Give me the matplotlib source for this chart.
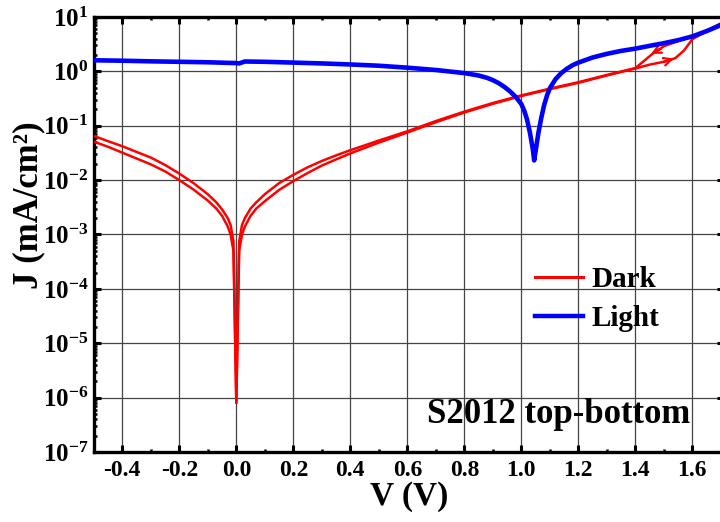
import math
import matplotlib
matplotlib.use("Agg")
import matplotlib.pyplot as plt
from matplotlib.lines import Line2D
from matplotlib.ticker import FixedLocator, LogLocator, FuncFormatter, MultipleLocator, NullFormatter

# ---------------- data ----------------
V_rev = [-0.5, -0.45, -0.4, -0.35, -0.3, -0.25, -0.2, -0.15, -0.1, -0.07, -0.05, -0.03, -0.02, -0.01,
         0.0, 0.01, 0.02, 0.03, 0.05, 0.07, 0.1, 0.15, 0.2, 0.25, 0.3, 0.35, 0.4, 0.45, 0.5,
         0.6, 0.7, 0.8, 0.9, 1.0, 1.1, 1.2, 1.3, 1.4, 1.43, 1.46, 1.5, 1.55, 1.6, 1.65, 1.7]
J_rev = [0.065, 0.052, 0.042, 0.033, 0.026, 0.019, 0.0132, 0.0088, 0.0055, 0.0039, 0.0029, 0.0020, 0.0015, 0.00075,
         8e-7, 0.00075, 0.0015, 0.0020, 0.0030, 0.0039, 0.0055, 0.0088, 0.0125, 0.0172, 0.0225, 0.0285, 0.0355, 0.0435, 0.0535,
         0.079, 0.122, 0.182, 0.262, 0.362, 0.482, 0.632, 0.86, 1.15, 1.55, 2.1, 2.9, 3.6, 4.4, 5.6, 7.6]

V_fwd = [-0.5, -0.45, -0.4, -0.35, -0.3, -0.25, -0.2, -0.15, -0.1, -0.07, -0.05, -0.03, -0.02, -0.01,
         0.0, 0.01, 0.02, 0.03, 0.05, 0.07, 0.1, 0.15, 0.2, 0.25, 0.3, 0.35, 0.4, 0.45, 0.5,
         0.6, 0.7, 0.8, 0.9, 1.0, 1.1, 1.2, 1.3, 1.4, 1.45, 1.5, 1.54, 1.57, 1.6, 1.65, 1.7]
J_fwd = [0.051, 0.041, 0.032, 0.025, 0.0195, 0.0145, 0.0100, 0.0067, 0.0042, 0.0030, 0.0022, 0.0014, 0.0010, 0.0005,
         8e-7, 0.0005, 0.0010, 0.0014, 0.0022, 0.0030, 0.0041, 0.0066, 0.0096, 0.0135, 0.0185, 0.024, 0.031, 0.039, 0.049,
         0.075, 0.116, 0.175, 0.253, 0.352, 0.47, 0.615, 0.84, 1.13, 1.33, 1.5, 1.75, 2.4, 3.9, 5.5, 7.6]

V_light = [-0.5, -0.4, -0.3, -0.2, -0.1, 0.0, 0.01, 0.03, 0.1, 0.2, 0.3, 0.4, 0.5, 0.6, 0.7, 0.8, 0.85, 0.88,
           0.9, 0.92, 0.94, 0.96, 0.98, 1.0, 1.01, 1.02, 1.03, 1.04, 1.045, 1.05, 1.06, 1.07, 1.08, 1.09, 1.1,
           1.12, 1.14, 1.16, 1.18, 1.2, 1.25, 1.3, 1.35, 1.4, 1.45, 1.5, 1.55, 1.6, 1.65, 1.7]
J_light = [1.60, 1.57, 1.53, 1.50, 1.47, 1.42, 1.40, 1.52, 1.50, 1.45, 1.40, 1.34, 1.27, 1.17, 1.06, 0.93, 0.84, 0.76,
           0.69, 0.61, 0.52, 0.43, 0.34, 0.25, 0.19, 0.13, 0.075, 0.038, 0.023, 0.034, 0.075, 0.14, 0.24, 0.36, 0.49,
           0.72, 0.93, 1.12, 1.3, 1.45, 1.8, 2.1, 2.38, 2.62, 2.95, 3.3, 3.75, 4.4, 5.5, 7.1]

# scan-direction arrows on dark curve: (tail V, tail J, head V, head J)
arrow_rev = (1.49, 2.6, 1.455, 2.1)
arrow_fwd = (1.50, 1.5, 1.535, 1.72)

series_labels = ["Dark", "Light"]
series_colors = ["red", "blue"]
x_ticks = [-0.4, -0.2, 0.0, 0.2, 0.4, 0.6, 0.8, 1.0, 1.2, 1.4, 1.6]
y_exponents = [-7, -6, -5, -4, -3, -2, -1, 0, 1]
annotation = "S2012 top-bottom"

# ---------------- style ----------------
plt.rcParams['font.family'] = ['Liberation Serif', 'DejaVu Serif']
plt.rcParams['font.weight'] = 'bold'
plt.rcParams['mathtext.fontset'] = 'custom'
plt.rcParams['mathtext.rm'] = 'Liberation Serif:bold'
plt.rcParams['mathtext.bf'] = 'Liberation Serif:bold'
plt.rcParams['mathtext.it'] = 'Liberation Serif:bold:italic'

fig = plt.figure(figsize=(7.2, 5.22), dpi=100)
L, R, T, B = 93.8, 724.0, 17.0, 452.0
ax = fig.add_axes([L / 720, 1 - B / 522, (R - L) / 720, (B - T) / 522])

ax.plot(V_rev, J_rev, color=series_colors[0], lw=1.8, zorder=3)
ax.plot(V_fwd, J_fwd, color=series_colors[0], lw=1.8, zorder=3)
ax.plot(V_light, J_light, color=series_colors[1], lw=3.3, zorder=4)

for a in (arrow_rev, arrow_fwd):
    ax.annotate('', xy=(a[2], a[3]), xytext=(a[0], a[1]),
                arrowprops=dict(arrowstyle='->', color='red', lw=1.6, mutation_scale=14,
                                shrinkA=0, shrinkB=0), zorder=3)

ax.set_yscale('log')
ax.set_xlim(-0.5, 1.711)
ax.set_ylim(1e-7, 10)

ax.xaxis.set_major_locator(FixedLocator(x_ticks))
ax.xaxis.set_minor_locator(MultipleLocator(0.1))
ax.set_xticklabels(["%.1f" % v for v in x_ticks])
ax.yaxis.set_major_locator(FixedLocator([10.0 ** e for e in y_exponents]))
ax.yaxis.set_minor_locator(LogLocator(base=10, subs=range(2, 10), numticks=20))
ax.yaxis.set_minor_formatter(NullFormatter())
ax.yaxis.set_major_formatter(FuncFormatter(
    lambda v, p: r'$\mathbf{10^{%d}}$' % round(math.log10(v))))

ax.grid(True, which='major', color='#444444', lw=0.9)
ax.set_axisbelow(True)

for s in ax.spines.values():
    s.set_linewidth(2.4)
ax.tick_params(which='major', direction='in', length=5, width=2.2, top=True, right=True,
               labelsize=17, pad=6)
ax.tick_params(which='minor', direction='in', length=2.5, width=1.8, top=True, right=True)
ax.tick_params(axis='y', which='major', pad=4, labelsize=18)

ax.set_xlabel("V (V)", fontsize=24, fontweight='bold', labelpad=0)
ax.set_ylabel("J (mA/cm²)", fontsize=25, fontweight='bold')
ax.yaxis.set_label_coords(-0.077, 0.568)

handles = [Line2D([], [], color=series_colors[0], lw=2.2),
           Line2D([], [], color=series_colors[1], lw=3.2)]
leg = ax.legend(handles, series_labels, loc='upper left', bbox_to_anchor=(0.70, 0.427), frameon=False,
                fontsize=21, handlelength=1.65, handletextpad=0.3, labelspacing=0.4,
                borderaxespad=0, borderpad=0)

ax.text(0.737, 0.0667, annotation, transform=ax.transAxes, ha='center', va='baseline',
        fontsize=25, fontweight='bold')

fig.savefig('out.png', dpi=100)
